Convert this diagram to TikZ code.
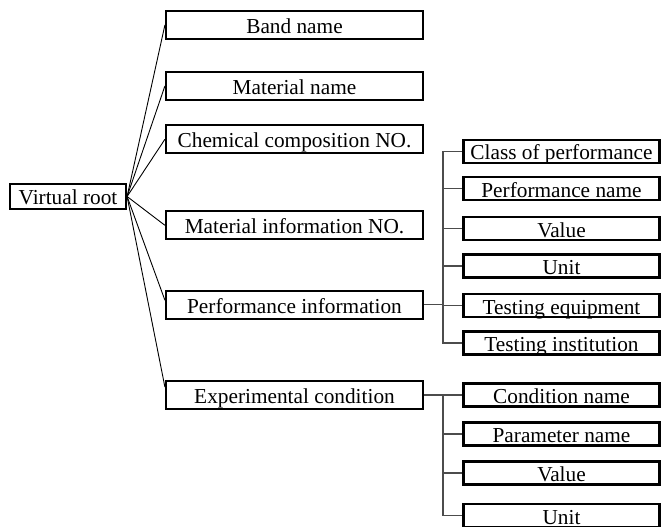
\documentclass[tikz,border=0pt]{standalone}
\usepackage{fontspec}
\setmainfont{Liberation Serif}
\tikzset{
  box/.style={draw, line width=2.2pt, inner sep=0pt, text height=18pt, text depth=1pt,
    font=\fontsize{21.3}{24}\selectfont},
  lbox/.style={box, minimum width=257pt, minimum height=28pt},
  rbox/.style={box, minimum width=196pt, minimum height=23pt},
  link/.style={line width=0.9pt},
  tree/.style={line width=1.3pt, black!70}
}
\begin{document}
\begin{tikzpicture}[x=1pt, y=-1pt]
   \useasboundingbox (0,0) rectangle (662,527);
   \node[box, minimum width=116pt, minimum height=25pt, text height=16pt, text depth=1pt] (root) at (68,196.5) {Virtual root};
   \node[lbox] (band) at (294.5,25) {Band name};
   \node[lbox] (matname) at (294.5,86) {Material name};
   \node[lbox] (chem) at (294.5,139.3) {Chemical composition NO.};
   \node[lbox] (matinfo) at (294.5,225.3) {Material information NO.};
   \node[lbox] (perf) at (294.5,304.7) {Performance information};
   \node[lbox] (exp) at (294.5,395) {Experimental condition};
   \node[rbox] (cls) at (561.5,151.5) {Class of performance};
   \node[rbox] (pname) at (561.5,188.5) {Performance name};
   \node[rbox] (pval) at (561.5,228.5) {Value};
   \node[rbox] (punit) at (561.5,266) {Unit};
   \node[rbox] (teq) at (561.5,305.5) {Testing equipment};
   \node[rbox] (tinst) at (561.5,343) {Testing institution};
   \node[rbox] (cname) at (561.5,395) {Condition name};
   \node[rbox] (parname) at (561.5,434) {Parameter name};
   \node[rbox] (cval) at (561.5,473) {Value};
   \node[rbox] (cunit) at (561.5,515.5) {Unit};
   \foreach \n in {band,matname,chem,matinfo}
     \draw[link] (root.east) -- (\n.west);
   \draw[link] (root.east) -- ([yshift=4.5pt]perf.west);
   \draw[link] (root.east) -- ([yshift=8pt]exp.west);
   \foreach \n in {cls,pname,pval,punit,teq,tinst}
     \draw[tree] (perf.east) -- ++(19,0) |- (\n.west);
   \foreach \n in {cname,parname,cval,cunit}
     \draw[tree] (exp.east) -- ++(19,0) |- (\n.west);
\end{tikzpicture}
\end{document}
